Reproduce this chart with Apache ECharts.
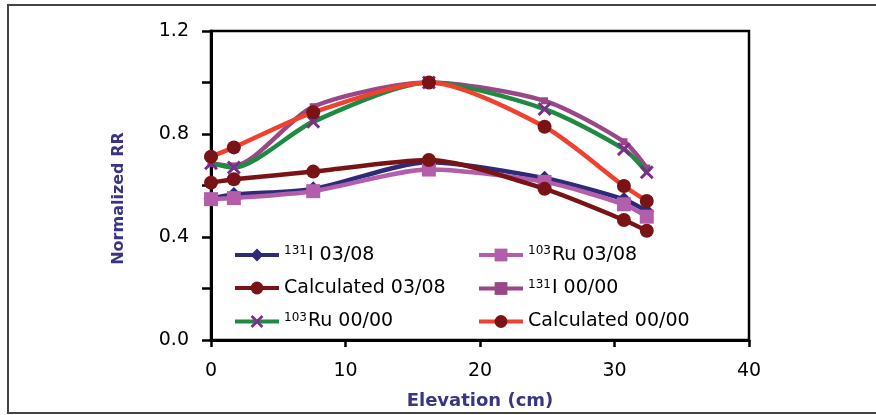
<!DOCTYPE html>
<html>
<head>
<meta charset="utf-8">
<script src="https://cdn.jsdelivr.net/npm/echarts@6/dist/echarts.min.js"></script>
<style>
html,body{margin:0;padding:0;background:#fff;}
#chart{width:876px;height:415px;}
</style>
</head>
<body>
<div id="chart"></div>
<script>
// Elevation (cm)
const elevation = [0, 1.7, 7.6, 16.2, 24.8, 30.7, 32.4];

// Series values (Normalized RR)
const i131_0308  = [0.55, 0.565, 0.587, 0.690, 0.628, 0.546, 0.500];
const ru103_0308 = [0.547, 0.551, 0.578, 0.662, 0.614, 0.527, 0.479];
const calc_0308  = [0.611, 0.624, 0.654, 0.699, 0.587, 0.466, 0.424];
const i131_0000  = [0.686, 0.676, 0.906, 1.000, 0.929, 0.770, 0.668];
const ru103_0000 = [0.686, 0.670, 0.848, 1.000, 0.897, 0.741, 0.651];
const calc_0000  = [0.712, 0.748, 0.884, 1.000, 0.828, 0.598, 0.540];

// Legend labels: superscript part + main text
const seriesNames = ['131I 03/08', '103Ru 03/08', 'Calculated 03/08', '131I 00/00', '103Ru 00/00', 'Calculated 00/00'];
const seriesSup   = ['131', '103', '', '131', '103', ''];
const seriesMain  = ['I 03/08', 'Ru 03/08', 'Calculated 03/08', 'I 00/00', 'Ru 00/00', 'Calculated 00/00'];

// Axis ticks
const yTicks = [0, 0.4, 0.8, 1.2];
const xTicks = [0, 10, 20, 30, 40];

function pairs(ys) { return elevation.map((x, i) => [x, ys[i]]); }

const xSym = 'path://M1.5,0 L5,3.5 L8.5,0 L10,1.5 L6.5,5 L10,8.5 L8.5,10 L5,6.5 L1.5,10 L0,8.5 L3.5,5 L0,1.5 Z';

const FONT = 'DejaVu Sans';
const NAVY = '#3a3583';

function mkSeries(idx, data, lineColor, markColor, symbol, size) {
  return {
    name: seriesNames[idx],
    type: 'line',
    data: pairs(data),
    smooth: 0.25,
    symbol: symbol,
    symbolSize: size,
    showSymbol: true,
    lineStyle: { color: lineColor, width: 4.5 },
    itemStyle: { color: markColor, borderWidth: 0 },
    emphasis: { disabled: true },
    z: 2 + idx
  };
}

const legendText = {
  fontFamily: FONT, fontSize: 19, color: '#000',
  rich: {
    sup: { fontFamily: FONT, fontSize: 12, color: '#000', verticalAlign: 'top', padding: [0, 1, 8, 0] },
    n: { fontFamily: FONT, fontSize: 19, color: '#000' }
  }
};
function legendFmt(name) {
  const i = seriesNames.indexOf(name);
  if (seriesSup[i]) return '{sup|' + seriesSup[i] + '}{n|' + seriesMain[i] + '}';
  return '{n|' + seriesMain[i] + '}';
}

const chart = echarts.init(document.getElementById('chart'), null, { renderer: 'canvas' });
chart.setOption({
  animation: false,
  backgroundColor: '#fff',
  graphic: [{
    type: 'rect', shape: { x: 8, y: 5, width: 1200, height: 408 },
    style: { fill: 'none', stroke: '#444', lineWidth: 2 }, silent: true, z: -10
  }],
  grid: { left: 211, right: 127, top: 31, bottom: 75, show: true, borderColor: '#000', borderWidth: 2.5,
    backgroundColor: 'transparent', containLabel: false, outerBoundsMode: 'none' },
  xAxis: {
    type: 'value', min: 0, max: 40, interval: 10,
    axisLine: { show: true, onZero: false, lineStyle: { color: '#000', width: 3 } },
    axisTick: { show: true, inside: false, length: 7, lineStyle: { color: '#000', width: 2.5 } },
    axisLabel: { margin: 22, fontFamily: FONT, fontSize: 19, color: '#000',
      formatter: v => xTicks.includes(v) ? String(v) : '' },
    splitLine: { show: false },
    name: 'Elevation (cm)', nameLocation: 'middle', nameGap: 52,
    nameTextStyle: { fontFamily: FONT, fontSize: 18, fontWeight: 'bold', color: NAVY }
  },
  yAxis: {
    type: 'value', min: 0, max: 1.2, interval: 0.4,
    axisLine: { show: true, onZero: false, lineStyle: { color: '#000', width: 3 } },
    axisTick: { show: true, inside: false, length: 9, lineStyle: { color: '#000', width: 2.5 } },
    minorTick: { show: true, splitNumber: 2, length: 9, lineStyle: { color: '#000', width: 2.5 } },
    axisLabel: { margin: 22, fontFamily: FONT, fontSize: 19, color: '#000',
      formatter: v => yTicks.some(t => Math.abs(t - v) < 1e-6) ? v.toFixed(1) : '' },
    splitLine: { show: false },
    name: 'Normalized RR', nameLocation: 'middle', nameGap: 84, nameRotate: 90,
    nameTextStyle: { fontFamily: FONT, fontSize: 16, fontWeight: 'bold', color: NAVY, padding: [0, 26, 0, 0] }
  },
  legend: [
    {
      data: [seriesNames[0], seriesNames[2], seriesNames[4]],
      orient: 'vertical', left: 228, top: 240, itemGap: 14,
      itemWidth: 44, itemHeight: 16, textStyle: legendText, formatter: legendFmt,
      lineStyle: { width: 4 },
      selectedMode: false
    },
    {
      data: [seriesNames[1], seriesNames[3], seriesNames[5]],
      orient: 'vertical', left: 472, top: 240, itemGap: 14,
      itemWidth: 44, itemHeight: 16, textStyle: legendText, formatter: legendFmt,
      lineStyle: { width: 4 },
      selectedMode: false
    }
  ],
  series: [
    mkSeries(0, i131_0308, '#2e2a78', '#2e2a78', 'diamond', 15),
    mkSeries(1, ru103_0308, '#b35eaa', '#b35eaa', 'rect', 14),
    mkSeries(2, calc_0308, '#7a1315', '#7a1315', 'circle', 14),
    mkSeries(3, i131_0000, '#9a4787', '#9a4787', 'rect', 7),
    mkSeries(4, ru103_0000, '#1f8a42', '#7b2d8c', xSym, 14),
    mkSeries(5, calc_0000, '#f0402f', '#7a1315', 'circle', 14)
  ]
});
</script>
</body>
</html>
